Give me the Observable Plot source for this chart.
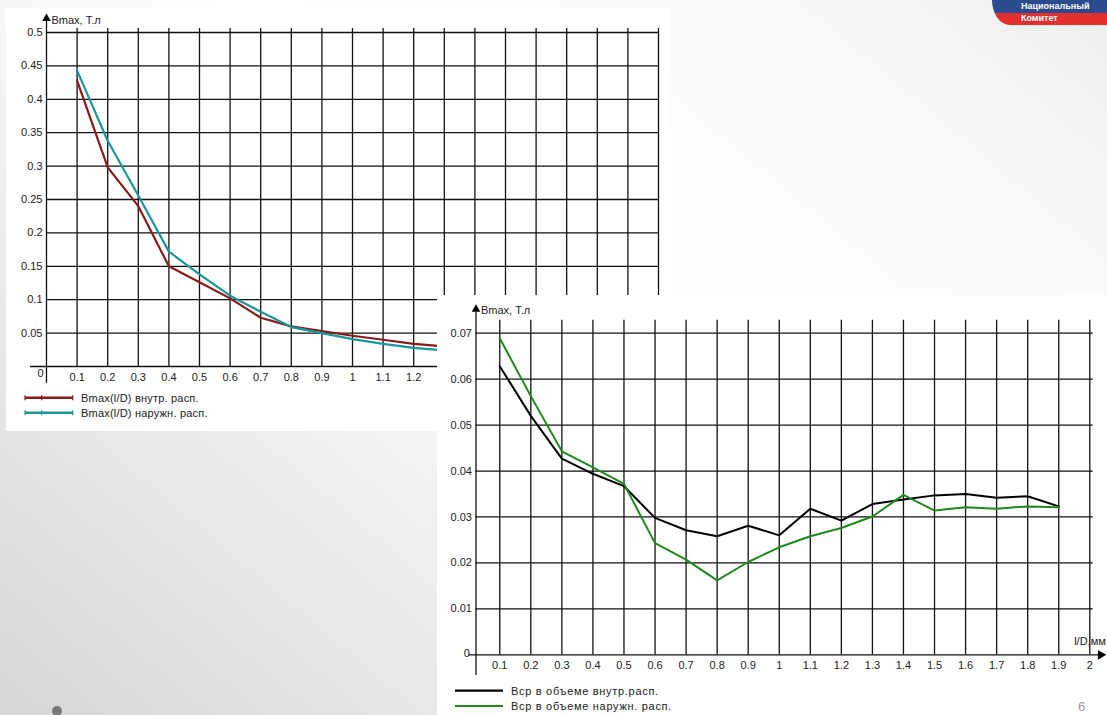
<!DOCTYPE html>
<html><head><meta charset="utf-8">
<script src="https://cdn.jsdelivr.net/npm/d3@7"></script>
<script src="https://cdn.jsdelivr.net/npm/@observablehq/plot@0.6"></script>
<style>
html,body{margin:0;padding:0;}
body{width:1107px;height:715px;overflow:hidden;position:relative;font-family:"Liberation Sans",Arial,sans-serif;
 background:linear-gradient(40deg,#d6d6d6 0%,#ececec 28%,#ffffff 55%,#fbfbfb 80%,#ededed 100%);}
.panel{position:absolute;background:#fff;}
#p1{left:6px;top:8px;width:664px;height:423px;}
#p2{left:437px;top:295px;width:670px;height:420px;}
.panel svg.plot{position:absolute;left:0;top:0;}
.leg{position:absolute;font-size:11px;color:#222;line-height:14px;white-space:nowrap;}
#logo{position:absolute;left:992px;top:0;width:115px;height:25px;overflow:hidden;border-bottom-left-radius:18px 25px;}
#logo .b{position:absolute;left:0;top:0;width:115px;height:13px;background:#2a4c8f;}
#logo .r{position:absolute;left:0;top:13px;width:115px;height:12px;background:#e3302f;}
#logo span{position:absolute;left:29px;color:#fff;font-weight:bold;font-size:9px;line-height:12px;}
</style></head>
<body>
<div id="logo"><div class="b"></div><div class="r"></div><span style="top:0px">Национальный</span><span style="top:12px">Комитет</span></div>
<div id="p1" class="panel"></div>
<div id="p2" class="panel"></div>
<div style="position:absolute;left:52px;top:706px;width:10px;height:10px;border-radius:5px;background:#777;"></div>
<div style="position:absolute;left:1078px;top:699px;font-size:13px;color:#999;">6</div>
<script>
// ---- data ----
const xTicks = [0.1,0.2,0.3,0.4,0.5,0.6,0.7,0.8,0.9,1.0,1.1,1.2,1.3,1.4,1.5,1.6,1.7,1.8,1.9,2.0];
const xTickLabels = ["0.1","0.2","0.3","0.4","0.5","0.6","0.7","0.8","0.9","1","1.1","1.2","1.3","1.4","1.5","1.6","1.7","1.8","1.9","2"];
// chart 1 shows only the labels left uncovered by chart 2
const xTicks1Shown = [0.1,0.2,0.3,0.4,0.5,0.6,0.7,0.8,0.9,1.0,1.1,1.2];
const xTickLabels1 = ["0.1","0.2","0.3","0.4","0.5","0.6","0.7","0.8","0.9","1","1.1","1.2"];

// chart 1 (Bmax vs l/D)
const x1 = [0.1,0.2,0.3,0.4,0.5,0.6,0.7,0.8,0.9,1.0,1.1,1.2,1.3];
const bmaxInner = [0.428,0.298,0.240,0.150,0.126,0.102,0.073,0.060,0.053,0.046,0.040,0.034,0.030];
const bmaxOuter = [0.443,0.338,0.256,0.172,0.138,0.106,0.082,0.059,0.050,0.041,0.034,0.028,0.024];
const yTicks1 = [0.05,0.1,0.15,0.2,0.25,0.3,0.35,0.4,0.45,0.5];
const yTickLabels1 = ["0.05","0.1","0.15","0.2","0.25","0.3","0.35","0.4","0.45","0.5"];
const series1Names = ["Bmax(l/D) внутр. расп.","Bmax(l/D) наружн. расп."];

// chart 2 (Bср in volume vs l/D)
const x2 = [0.1,0.2,0.3,0.4,0.5,0.6,0.7,0.8,0.9,1.0,1.1,1.2,1.3,1.4,1.5,1.6,1.7,1.8,1.9];
const bavgInner = [0.0628,0.0520,0.0427,0.0394,0.0367,0.0298,0.0271,0.0258,0.0281,0.0260,0.0318,0.0292,0.0328,0.0338,0.0347,0.0350,0.0342,0.0345,0.0323];
const bavgOuter = [0.0689,0.0563,0.0443,0.0408,0.0372,0.0243,0.0207,0.0162,0.0202,0.0234,0.0258,0.0276,0.0301,0.0348,0.0314,0.0321,0.0318,0.0323,0.0321];
const yTicks2 = [0.01,0.02,0.03,0.04,0.05,0.06,0.07];
const yTickLabels2 = ["0.01","0.02","0.03","0.04","0.05","0.06","0.07"];
const series2Names = ["Вср в объеме внутр.расп.","Вср в объеме наружн. расп."];

const yAxisTitle = "Bmax, Т.л";
const xAxisTitle = "l/D,мм";

const colors1 = ["#8b1a1a","#189898"];
const colors2 = ["#000000","#1e8a1e"];

// ---- helpers ----
const font = {fontFamily:"Liberation Sans, Arial, sans-serif", fontSize:11, fill:"#222"};
const rows = (xs, ys) => xs.map((x,i)=>({x, y: ys[i]}));

// ---- chart 1 ----
{
  const h = 423, w = 664;
  const yAxisBot = -0.025, yAxisTop = 0.521, xAxisLeft = -0.052;
  const p = Plot.plot({
    width: w, height: h,
    marginLeft: 40, marginRight: 12, marginTop: 24, marginBottom: 65,
    x: {domain: [0, 2], axis: null},
    y: {domain: [0, 0.5], axis: null},
    style: {background: "transparent", overflow: "visible"},
    marks: [
      Plot.ruleX(xTicks, {x: d=>d, y1: 0, y2: 0.506, stroke: "#111", strokeWidth: 1.3}),
      Plot.ruleY(yTicks1, {y: d=>d, x1: 0, x2: 2, stroke: "#111", strokeWidth: 1.3}),
      Plot.ruleY([0], {x1: xAxisLeft, x2: 2, stroke: "#111", strokeWidth: 1.3}),
      Plot.ruleX([0], {y1: yAxisBot, y2: yAxisTop, stroke: "#111", strokeWidth: 1.3}),
      Plot.dot([0], {x: 0, y: yAxisTop, symbol: "triangle", r: 3.2, fill: "#000", stroke: "none"}),
      Plot.line(rows(x1, bmaxInner), {x: "x", y: "y", stroke: colors1[0], strokeWidth: 2.2}),
      Plot.line(rows(x1, bmaxOuter), {x: "x", y: "y", stroke: colors1[1], strokeWidth: 2.2}),
      Plot.text(yTicks1, {x: 0, y: d=>d, text: (d,i)=>yTickLabels1[i], textAnchor: "end", dx: -4, ...font}),
      Plot.text(xTicks1Shown, {x: d=>d, y: 0, text: (d,i)=>xTickLabels1[i], dy: 11, ...font}),
      Plot.text(["0"], {x: 0, y: 0, text: d=>d, textAnchor: "end", dx: -3, dy: 7, ...font}),
      Plot.text([yAxisTitle], {x: 0, y: yAxisTop, text: d=>d, textAnchor: "start", dx: 5, dy: 2, ...font})
    ]
  });
  p.classList.add("plot");
  const host = document.getElementById("p1");
  host.appendChild(p);
  // legend
  const lg = document.createElementNS("http://www.w3.org/2000/svg","svg");
  lg.setAttribute("width", 60); lg.setAttribute("height", 30);
  lg.style.position = "absolute"; lg.style.left = "16px"; lg.style.top = "383px";
  [0,1].forEach(i=>{
    const y = 6.7 + i*15;
    const ln = document.createElementNS(lg.namespaceURI,"line");
    ln.setAttribute("x1",3); ln.setAttribute("x2",51); ln.setAttribute("y1",y); ln.setAttribute("y2",y);
    ln.setAttribute("stroke",colors1[i]); ln.setAttribute("stroke-width",2.4);
    lg.appendChild(ln);
    [3,19.7,50.7].forEach(tx=>{
      const t = document.createElementNS(lg.namespaceURI,"line");
      t.setAttribute("x1",tx); t.setAttribute("x2",tx); t.setAttribute("y1",y-2.5); t.setAttribute("y2",y+2.5);
      t.setAttribute("stroke",colors1[i]); t.setAttribute("stroke-width",1.2);
      lg.appendChild(t);
    });
    const s = document.createElement("div");
    s.className = "leg"; s.style.left = "75px"; s.style.top = (382.7 + i*15) + "px";
    s.style.letterSpacing = "0.2px";
    s.textContent = series1Names[i];
    host.appendChild(s);
  });
  host.appendChild(lg);
}

// ---- chart 2 ----
{
  const h = 420, w = 670;
  const yAxisX = 0.0235, yAxisBot = -0.0045, yAxisTop = 0.0752, gridTop = 0.0728, gridRight = 2.011, xArrow = 2.035;
  const p = Plot.plot({
    width: w, height: h,
    marginLeft: 31.2, marginRight: 17.7, marginTop: 37.7, marginBottom: 60.7,
    x: {domain: [0, 2], axis: null},
    y: {domain: [0, 0.07], axis: null},
    style: {background: "transparent", overflow: "visible"},
    marks: [
      Plot.ruleX(xTicks, {x: d=>d, y1: 0, y2: gridTop, stroke: "#111", strokeWidth: 1.3}),
      Plot.ruleY(yTicks2, {y: d=>d, x1: yAxisX, x2: gridRight, stroke: "#111", strokeWidth: 1.3}),
      Plot.ruleY([0], {x1: 0, x2: xArrow, stroke: "#111", strokeWidth: 1.3}),
      Plot.ruleX([yAxisX], {x: d=>d, y1: yAxisBot, y2: yAxisTop, stroke: "#111", strokeWidth: 1.3}),
      Plot.dot([yAxisX], {x: d=>d, y: yAxisTop, symbol: "triangle", r: 3.2, fill: "#000", stroke: "none"}),
      Plot.dot([xArrow], {x: d=>d, y: 0, symbol: "triangle", rotate: 90, r: 3.6, fill: "#000", stroke: "none"}),
      Plot.line(rows(x2, bavgInner), {x: "x", y: "y", stroke: colors2[0], strokeWidth: 2}),
      Plot.line(rows(x2, bavgOuter), {x: "x", y: "y", stroke: colors2[1], strokeWidth: 2}),
      Plot.text(yTicks2, {x: yAxisX, y: d=>d, text: (d,i)=>yTickLabels2[i], textAnchor: "end", dx: -4, ...font}),
      Plot.text(xTicks, {x: d=>d, y: 0, text: (d,i)=>xTickLabels[i], dy: 11, ...font}),
      Plot.text(["0"], {x: yAxisX, y: 0, text: d=>d, textAnchor: "end", dx: -6, dy: -1, ...font}),
      Plot.text([yAxisTitle], {x: yAxisX, y: yAxisTop, text: d=>d, textAnchor: "start", dx: 5, dy: 1, ...font}),
      Plot.text([xAxisTitle], {x: 2, y: 0, text: d=>d, textAnchor: "end", dx: 16, dy: -13, ...font})
    ]
  });
  p.classList.add("plot");
  const host = document.getElementById("p2");
  host.appendChild(p);
  const lg = document.createElementNS("http://www.w3.org/2000/svg","svg");
  lg.setAttribute("width", 60); lg.setAttribute("height", 30);
  lg.style.position = "absolute"; lg.style.left = "16px"; lg.style.top = "389px";
  [0,1].forEach(i=>{
    const y = 6.7 + i*15.3;
    const ln = document.createElementNS(lg.namespaceURI,"line");
    ln.setAttribute("x1",2); ln.setAttribute("x2",50); ln.setAttribute("y1",y); ln.setAttribute("y2",y);
    ln.setAttribute("stroke",colors2[i]); ln.setAttribute("stroke-width",2.2);
    lg.appendChild(ln);
    const s = document.createElement("div");
    s.className = "leg"; s.style.left = "74px"; s.style.top = (388.7 + i*15.3) + "px";
    s.style.letterSpacing = "0.7px";
    s.textContent = series2Names[i];
    host.appendChild(s);
  });
  host.appendChild(lg);
}
</script>
</body></html>
